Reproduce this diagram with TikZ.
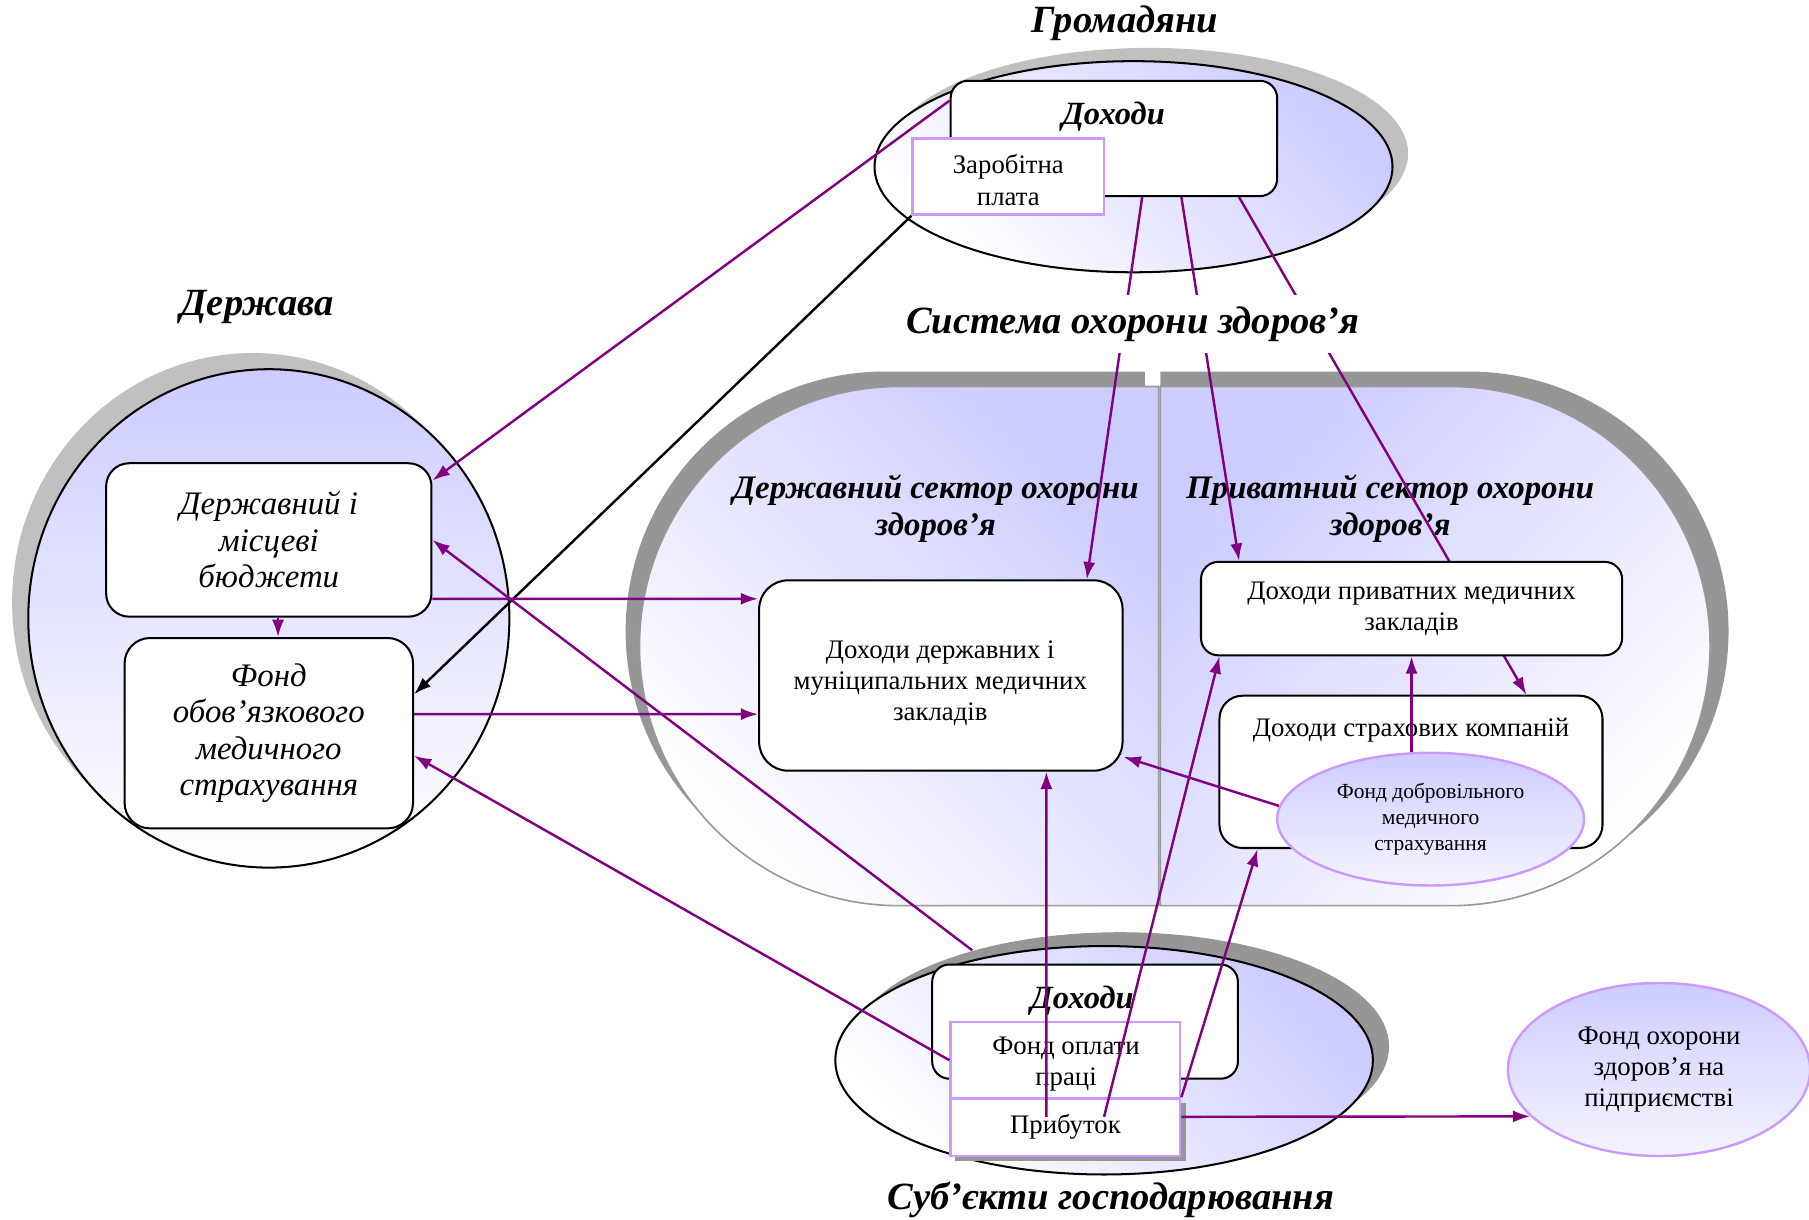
\documentclass[tikz,border=0pt]{standalone}
\usepackage{fontspec}
\setmainfont{Liberation Serif}
\usetikzlibrary{shapes.geometric,shapes.misc,arrows.meta}
\definecolor{lav}{HTML}{CCCCFF}
\definecolor{plum}{HTML}{800080}
\definecolor{lilac}{HTML}{CC99FF}
\definecolor{shd}{HTML}{C0C0C0}
\definecolor{shdd}{HTML}{969696}

\begin{document}
\begin{tikzpicture}[x=0.1mm, y=-0.1mm,
    ttl/.style={font=\fontsize{9.5}{11}\bfseries\itshape\selectfont},
    doh/.style={font=\fontsize{8}{9}\bfseries\itshape\selectfont},
    sect/.style={font=\fontsize{8.1}{9.1}\bfseries\itshape\selectfont, align=center},
    txt/.style={align=center, font=\fontsize{6.6}{7.7}\selectfont},
    box/.style={draw, rounded corners=1.5mm, fill=white, line width=0.5pt, txt},
    stbox/.style={box, rounded corners=2mm, font=\fontsize{8.1}{9}\itshape\selectfont},
    sub/.style={draw=lilac, fill=white, line width=0.6pt, inner sep=0pt, txt},
    fund/.style={ellipse, draw=lilac, line width=0.6pt, top color=lav, middle color=lav!35, bottom color=lav!20, align=center, inner sep=0pt},
    sector/.style={rounded rectangle, minimum width=48.5mm, minimum height=45mm},
    flow/.style={plum, line width=0.6pt, -{Latex[length=1.5mm, width=1.05mm]}}]

    \useasboundingbox (0,0) rectangle (1568,1057);

    % Громадяни
    \node[ttl] at (975,20) (GT) {Громадяни};
    \node[ellipse, fill=shd, minimum width=44.9mm, minimum height=18.3mm] at (996,133) (GS) {};
    \node[ellipse, draw, line width=0.5pt, top color=lav, bottom color=white, shading angle=-45, minimum width=44.9mm, minimum height=18.3mm] at (982.5,144.5) (GE) {};
    \node[box, minimum width=28.3mm, minimum height=10mm] at (965.5,120) (GD) {};
    \node[doh] at (965,101) {Доходи};
    \node[sub, minimum width=16.6mm, minimum height=6.6mm] at (874,153) (ZP) {};
    \node[txt] at (874,156) {Заробітна\\плата};

    % Держава
    \node[ttl] at (223,266) (DT) {Держава};
    \node[ellipse, fill=shd, minimum width=41.7mm, minimum height=43.2mm] at (219,522) (DS) {};
    \node[ellipse, draw, line width=0.5pt, top color=lav, bottom color=white, minimum width=41.7mm, minimum height=43.2mm] at (233,536) (DE) {};
    \node[stbox, minimum width=28.2mm, minimum height=13.3mm] at (233,468) (DB) {Державний і\\місцеві\\бюджети};
    \node[stbox, rounded corners=2.2mm, minimum width=25mm, minimum height=16.5mm] at (233,635.5) (DF) {Фонд\\обов’язкового\\медичного\\страхування};

    % система охорони здоров'я
    \node[sector, rounded rectangle right arc=none, fill=shdd, minimum width=45.3mm, anchor=east] at (993,547) (SLs) {};
    \node[sector, rounded rectangle left arc=none, fill=shdd, minimum width=51.6mm, anchor=west] at (1005,547) (SRs) {};
    \node[sector, rounded rectangle right arc=none, draw=black!40, top color=lav, bottom color=white, shading angle=-45, minimum width=44.9mm, anchor=east] at (1005,560) (SL) {};
    \node[sector, rounded rectangle left arc=none, draw=black!40, top color=lav, bottom color=white, shading angle=45, minimum width=50mm, anchor=west] at (1005,560) (SR) {};
    \node[sect] at (811,441) {Державний сектор охорони\\здоров’я};
    \node[sect] at (1205,441) {Приватний сектор охорони\\здоров’я};

    % Суб'єкти господарювання
    \node[ellipse, fill=shdd, minimum width=46.6mm, minimum height=19.8mm] at (971,907) (BS) {};
    \node[ellipse, draw, line width=0.5pt, top color=lav, bottom color=white, shading angle=-45, minimum width=46.6mm, minimum height=19.8mm] at (957,919) (BE) {};

    \node[box, rounded corners=2.5mm, minimum width=31.5mm, minimum height=16.5mm] at (815.5,585.5) (HD) {};
    \node[txt] at (815,592) {Доходи державних і\\муніципальних медичних\\закладів};
    \node[box, rounded corners=2mm, minimum width=33.2mm, minimum height=13.2mm] at (1223,669) (HS) {};
    \node[txt] at (1223,633) {Доходи страхових компаній};
    \node[fund, minimum width=26.6mm, minimum height=11.5mm, font=\fontsize{5.3}{6.3}\selectfont] at (1240,710) (HF) {Фонд добровільного\\медичного\\страхування};

    \node[box, minimum width=26.5mm, minimum height=9.9mm] at (940.5,885.5) (BD) {};
    \node[doh] at (938,867) {Доходи};
    \fill[shdd] (828,956) rectangle (1028,1006);
    \node[sub, minimum width=19.9mm, minimum height=6.6mm] at (923.5,919) (BF) {};
    \node[txt] at (924,922) {Фонд оплати\\праці};
    \node[sub, minimum width=19.9mm, minimum height=5mm] at (923.5,977) (BP) {Прибуток};
    \node[ttl] at (963,1040) (BT) {Суб’єкти господарювання};
    \node[fund, minimum width=26.2mm, minimum height=15mm, font=\fontsize{6.6}{7.6}\selectfont] at (1438,927) (FO) {Фонд охорони\\здоров’я на\\підприємстві};

    % потоки
    \draw[flow] (GD.167) -- (DB.20);
    \draw[black, line width=0.6pt, -{Latex[length=1.5mm, width=1.05mm]}] (ZP.south west) -- (DF.15);
    \draw[flow] ([xshift=2.45mm]GD.south) -- ([xshift=12.65mm]HD.north);
    \draw[flow] ([xshift=10.85mm]GD.south) -- ([xshift=10mm]HS.north);

    \node[box, minimum width=36.5mm, minimum height=8.1mm] at (1223.5,527.5) (HP) {Доходи приватних медичних\\закладів};
    \draw[flow] ([xshift=5.85mm]GD.south) -- ([xshift=-14.95mm]HP.north);

    \node[ttl, fill=white, inner sep=1mm] at (982,281) (ST) {Система охорони здоров’я};

    \draw[flow] ([xshift=0.8mm]DB.south) -- ([xshift=0.8mm]DF.north);
    \draw[flow] ([yshift=-5.1mm]DB.east) -- ([yshift=6.65mm]HD.west);
    \draw[flow] ([yshift=1.65mm]DF.east) -- ([yshift=-3.35mm]HD.west);
    \draw[flow] (BS.147) -- (DB.east);
    \draw[flow] (BF.west) -- ([yshift=-1.95mm]DF.east);
    \draw[flow] ([shift={(-1.65mm,0.9mm)}]BP.center) -- ([xshift=9.15mm]HD.south);
    \draw[flow] ([shift={(3.35mm,0.9mm)}]BP.center) -- ([xshift=-16.65mm]HP.south);
    \draw[flow] (BP.north east) -- ([xshift=-13.3mm]HS.south);
    \draw[flow] ([yshift=0.9mm]BP.east) -- (FO.200);
    \draw[flow] (HF.175) -- (HD.336);
    \draw[flow] (HP.south |- HF.north) -- (HP.south);

\end{tikzpicture}
\end{document}
